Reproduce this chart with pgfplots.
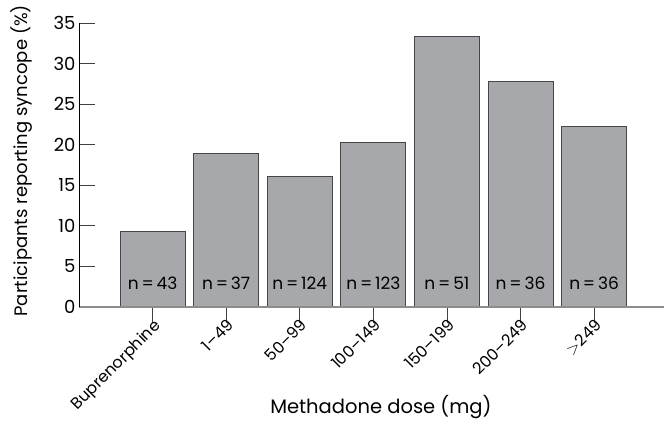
\documentclass[border=0pt]{standalone}
\usepackage{fontspec}
\setmainfont{Poppins}
\usepackage{pgfplots}
\pgfplotsset{compat=1.18}
\definecolor{barfill}{RGB}{167,168,172}
\definecolor{baredge}{RGB}{70,70,72}
\newcommand{\fs}[1]{\fontsize{#1bp}{#1bp}\selectfont}
\begin{document}
\begin{tikzpicture}[font=\fs{17}]
\begin{axis}[
  scale only axis, width=585bp, height=284bp,
  xmin=-1, xmax=6.95, ymin=0, ymax=35,
  axis x line=bottom, axis y line=left,
  x axis line style={-, color=black!45, line width=1.3bp},
  y axis line style={-, color=black, line width=0.9bp},
  ytick={0,5,...,35},
  xtick={0,...,6},
  xticklabels={Buprenorphine,1\textendash 49,50\textendash 99,100\textendash 149,150\textendash 199,200\textendash 249,$>$249},
  x tick label style={rotate=45, anchor=north east, inner sep=0pt, font=\fs{16}},
  y tick label style={font=\fs{18}},
  xticklabel shift=-5bp,
  tick align=inside,
  major tick length=16bp,
  tick style={color=black!75, line width=0.8bp},
  /pgf/number format/assume math mode=true,
  axis on top,
  ybar, bar width=0.883,
  ylabel={Participants reporting syncope (\%)},
  ylabel style={at={(axis description cs:-0.0872,0.515)}, anchor=base, font=\fs{18}},
  xlabel={Methadone dose (mg)},
  xlabel style={at={(axis description cs:0.516,-0.375)}, anchor=base, font=\fs{19.5}},
]
\addplot[fill=barfill, draw=baredge, line width=0.8bp] coordinates {(0,9.3) (1,18.9) (2,16.1) (3,20.3) (4,33.3) (5,27.8) (6,22.2)};
\node[anchor=base] at (axis cs:0,2.2) {n\,=\,43};
\node[anchor=base] at (axis cs:1,2.2) {n\,=\,37};
\node[anchor=base] at (axis cs:2,2.2) {n\,=\,124};
\node[anchor=base] at (axis cs:3,2.2) {n\,=\,123};
\node[anchor=base] at (axis cs:4,2.2) {n\,=\,51};
\node[anchor=base] at (axis cs:5,2.2) {n\,=\,36};
\node[anchor=base] at (axis cs:6,2.2) {n\,=\,36};
\end{axis}
\pgfresetboundingbox
\path (current axis.south west) ++(-79bp,-114bp) rectangle ++(664bp,421bp);
\end{tikzpicture}
\end{document}
